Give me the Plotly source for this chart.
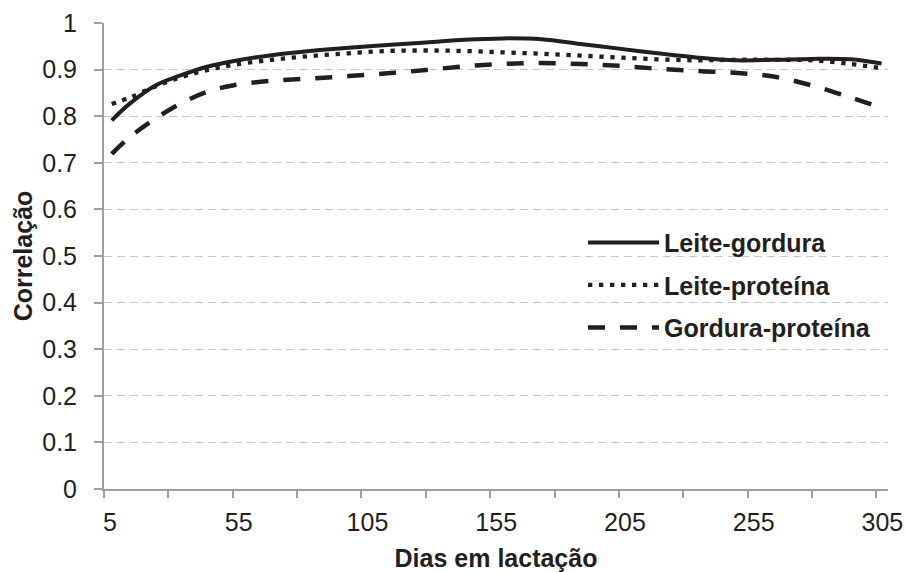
import plotly.graph_objects as go

days = [8, 15, 25, 35, 45, 55, 70, 85, 100, 115, 130, 145, 160, 175, 190, 205, 220, 235, 250, 265, 280, 295, 307]
leite_gordura = [0.791, 0.827, 0.866, 0.888, 0.906, 0.918, 0.931, 0.940, 0.947, 0.953, 0.958, 0.964, 0.967, 0.965, 0.955, 0.945, 0.935, 0.926, 0.920, 0.921, 0.923, 0.922, 0.913]
leite_proteina = [0.826, 0.840, 0.864, 0.884, 0.899, 0.910, 0.921, 0.929, 0.935, 0.940, 0.941, 0.940, 0.937, 0.934, 0.930, 0.926, 0.922, 0.920, 0.921, 0.921, 0.920, 0.912, 0.903]
gordura_proteina = [0.719, 0.755, 0.795, 0.828, 0.852, 0.866, 0.876, 0.881, 0.886, 0.892, 0.899, 0.907, 0.912, 0.914, 0.912, 0.908, 0.902, 0.897, 0.893, 0.885, 0.866, 0.840, 0.818]

x_ticks = [5, 30, 55, 80, 105, 130, 155, 180, 205, 230, 255, 280, 305]
x_ticktext = ["5", "", "55", "", "105", "", "155", "", "205", "", "255", "", "305"]
y_ticks = [0, 0.1, 0.2, 0.3, 0.4, 0.5, 0.6, 0.7, 0.8, 0.9, 1]
y_ticktext = ["0", "0.1", "0.2", "0.3", "0.4", "0.5", "0.6", "0.7", "0.8", "0.9", "1"]

INK = "#231f20"
AXIS = "#a0a0a0"
GRID = "#c8c8c8"
FONT = "Liberation Sans, Arial, sans-serif"

fig = go.Figure()
fig.add_trace(go.Scatter(x=days, y=leite_gordura, mode="lines", name="Leite-gordura",
                         legendgroup="a",
                         line=dict(color=INK, width=4, shape="spline", smoothing=1)))
fig.add_trace(go.Scatter(x=days, y=leite_proteina, mode="lines", name="Leite-proteína",
                         legendgroup="b",
                         line=dict(color=INK, width=4.3, dash="4.3px,6.7px", shape="spline", smoothing=1)))
fig.add_trace(go.Scatter(x=days, y=gordura_proteina, mode="lines", name="Gordura-proteína",
                         legendgroup="c",
                         line=dict(color=INK, width=4.5, dash="17px,15px", shape="spline", smoothing=1)))

fig.update_layout(
    width=907, height=572,
    margin=dict(l=104, r=19, t=23, b=83, autoexpand=False),
    paper_bgcolor="white", plot_bgcolor="white",
    font=dict(family=FONT, size=25, color=INK),
    showlegend=True,
    legend=dict(x=0.611, y=0.578, xanchor="left", yanchor="top",
                bgcolor="rgba(0,0,0,0)", itemwidth=71, tracegroupgap=7,
                font=dict(family=FONT, size=25, color=INK, weight="bold")),
    xaxis=dict(range=[5, 309.5], tickmode="array", tickvals=x_ticks, ticktext=x_ticktext,
               automargin=False,
               showline=True, linecolor=AXIS, linewidth=2, ticks="outside", ticklen=7,
               tickwidth=2, tickcolor=AXIS, showgrid=False, zeroline=False,
               ticklabelshift=6, ticklabelstandoff=3,
               tickfont=dict(family=FONT, size=25, color=INK),
               title=dict(text="Dias em lactação", standoff=14,
                          font=dict(family=FONT, size=25, color=INK, weight="bold"))),
    yaxis=dict(range=[0, 1], tickmode="array", tickvals=y_ticks, ticktext=y_ticktext,
               automargin=False,
               showline=True, linecolor=AXIS, linewidth=2, ticks="outside", ticklen=8,
               tickwidth=2, tickcolor=AXIS, showgrid=True, gridcolor=GRID, gridwidth=1.3,
               griddash="8px,5px", zeroline=False, ticklabelstandoff=12,
               tickfont=dict(family=FONT, size=25, color=INK),
               title=dict(text="Correlação", standoff=2,
                          font=dict(family=FONT, size=25, color=INK, weight="bold"))),
)

fig.write_html("out.html", config={"displayModeBar": False},
               post_script="document.body.style.margin='0';document.body.style.overflow='hidden';")
